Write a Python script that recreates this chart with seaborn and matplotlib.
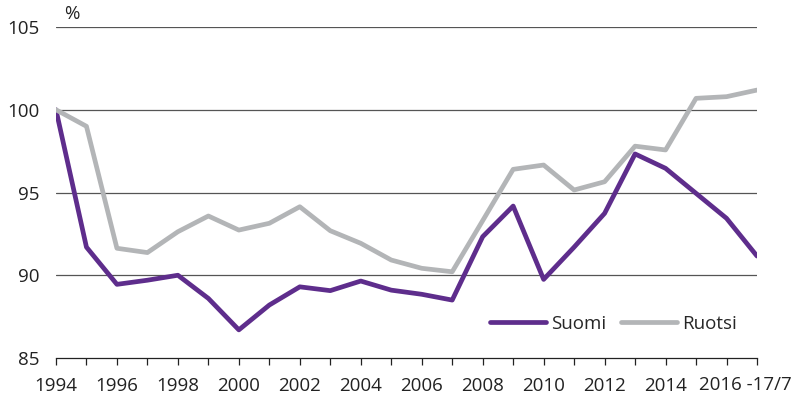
import numpy as np
import pandas as pd
import matplotlib.pyplot as plt
import seaborn as sns

years = list(range(1994, 2018))
suomi = [100.0, 91.7, 89.45, 89.7, 90.0, 88.6, 86.7, 88.2, 89.3, 89.07, 89.65, 89.1,
         88.85, 88.5, 92.33, 94.18, 89.75, 91.7, 93.74, 97.33, 96.46, 94.95, 93.44, 91.16]
ruotsi = [100.0, 99.0, 91.63, 91.37, 92.63, 93.58, 92.73, 93.14, 94.14, 92.69, 91.93, 90.92,
          90.42, 90.21, 93.3, 96.4, 96.66, 95.15, 95.65, 97.8, 97.57, 100.69, 100.79, 101.19]
series_names = ['Suomi', 'Ruotsi']
colors = ['#5e2d8c', '#b3b5b7']
xtick_years = list(range(1994, 2016, 2))
last_label = '2016 -17/7'
yticks = [85, 90, 95, 100, 105]

df = pd.DataFrame({'vuosi': years * 2,
                   'arvo': suomi + ruotsi,
                   'maa': ['Suomi'] * len(years) + ['Ruotsi'] * len(years)})

sns.set_style('white')
plt.rcParams['font.family'] = ['Open Sans', 'DejaVu Sans']
fs = 13.5

fig = plt.figure(figsize=(7.95, 4), dpi=100)
ax = fig.add_axes([0.0704, 0.105, 0.8818, 0.8275])

for y in yticks[1:]:
    ax.axhline(y, color='#555555', lw=0.9, zorder=1)

sns.lineplot(data=df, x='vuosi', y='arvo', hue='maa', hue_order=series_names,
             palette=colors, lw=3.4, ax=ax, zorder=3, legend=False)

ax.set_xlim(1994, 2017)
ax.set_ylim(85, 105)
ax.set_yticks(yticks)
ax.set_yticklabels([str(v) for v in yticks], fontsize=fs, color='#222222')
ax.set_xticks(years, minor=True)
ax.set_xticks(xtick_years)
ax.set_xticklabels([str(v) for v in xtick_years], fontsize=fs, color='#222222')
ax.annotate(last_label, xy=(2016, 0), xycoords=('data', 'axes fraction'),
            xytext=(-19.5, -13.2), textcoords='offset points', ha='left', va='top',
            fontsize=fs, color='#222222', annotation_clip=False)
ax.tick_params(axis='x', which='both', direction='out', length=5, width=0.9,
               color='#222222', bottom=True, pad=8.5)
ax.tick_params(axis='y', length=0, pad=12)

for s in ['top', 'right', 'left']:
    ax.spines[s].set_visible(False)
ax.spines['bottom'].set_color('#222222')
ax.spines['bottom'].set_linewidth(0.9)

ax.set_xlabel('')
ax.set_ylabel('')
ax.text(0.012, 1.012, '%', transform=ax.transAxes, fontsize=fs, color='#222222',
        va='bottom', ha='left')

handles = [plt.Line2D([], [], color=c, lw=3.4, solid_capstyle='round') for c in colors]
ax.legend(handles, series_names, loc='lower right', bbox_to_anchor=(0.995, 0.025),
          ncol=2, frameon=False, fontsize=fs, handlelength=3.0, handletextpad=0.25,
          columnspacing=0.8)

fig.savefig('out.png', dpi=100)
